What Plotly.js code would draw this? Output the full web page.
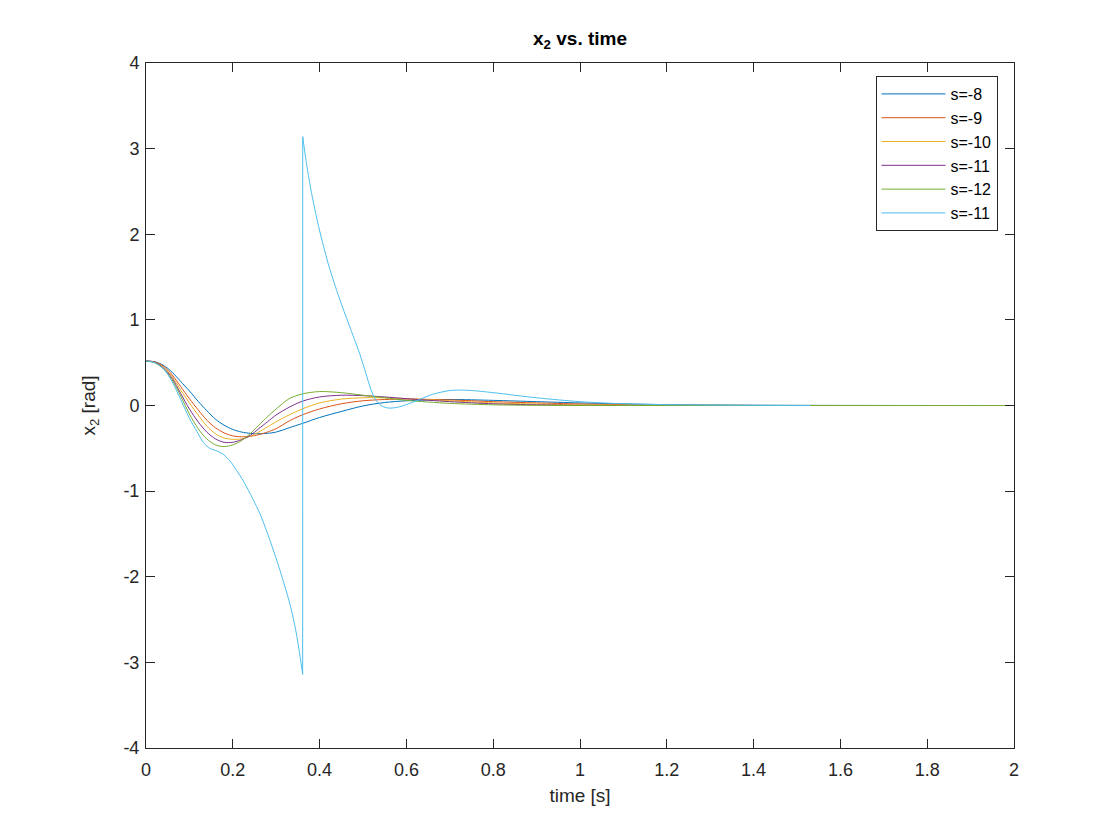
<!DOCTYPE html>
<html>
<head>
<meta charset="utf-8">
<script src="https://cdn.plot.ly/plotly-3.0.1.min.js"></script>
<style>
  html, body { margin: 0; padding: 0; background: #fff; }
  #chart { width: 1120px; height: 840px; }
</style>
</head>
<body>
<div id="chart"></div>
<script>
// x2 response for several pole placements
const timeCommon = [0, 0.02, 0.04, 0.06, 0.08, 0.1, 0.12, 0.14, 0.16, 0.18, 0.2, 0.22, 0.24, 0.26,
  0.28, 0.3, 0.33, 0.36, 0.4, 0.45, 0.5, 0.55, 0.6, 0.7, 0.8, 0.9, 1.0, 1.2, 1.4, 1.6, 1.8, 2.0];

const x2_s8 = [0.52, 0.51, 0.47, 0.39, 0.28, 0.17, 0.05, -0.06, -0.16, -0.23, -0.28, -0.31, -0.325, -0.33,
  -0.325, -0.31, -0.26, -0.21, -0.14, -0.07, -0.005, 0.035, 0.055, 0.07, 0.06, 0.045, 0.03, 0.01, 0.003, 0.001, 0, 0];
const x2_s9 = [0.52, 0.51, 0.46, 0.36, 0.22, 0.08, -0.05, -0.17, -0.26, -0.32, -0.355, -0.365, -0.36, -0.34,
  -0.31, -0.27, -0.18, -0.11, -0.04, 0.02, 0.055, 0.07, 0.075, 0.065, 0.045, 0.03, 0.018, 0.005, 0.001, 0, 0, 0];
const x2_s10 = [0.52, 0.505, 0.45, 0.34, 0.18, 0.03, -0.11, -0.24, -0.33, -0.38, -0.395, -0.39, -0.36, -0.31,
  -0.25, -0.19, -0.11, -0.04, 0.03, 0.075, 0.09, 0.09, 0.08, 0.055, 0.03, 0.017, 0.008, 0.002, 0, 0, 0, 0];
const x2_s11 = [0.52, 0.505, 0.44, 0.32, 0.14, -0.04, -0.19, -0.31, -0.39, -0.43, -0.43, -0.4, -0.35, -0.27,
  -0.19, -0.11, -0.02, 0.05, 0.1, 0.12, 0.115, 0.1, 0.08, 0.045, 0.02, 0.008, 0.002, 0, 0, 0, 0, 0];
const x2_s12 = [0.52, 0.5, 0.43, 0.3, 0.11, -0.1, -0.27, -0.39, -0.46, -0.48, -0.46, -0.41, -0.33, -0.23,
  -0.13, -0.04, 0.08, 0.135, 0.163, 0.15, 0.12, 0.09, 0.06, 0.025, 0.008, 0.002, 0, 0, 0, 0, 0, 0];

// second s=-11 run: the angle wraps from -pi to +pi at t ~ 0.361 s
const timeWrap = [0, 0.02, 0.04, 0.06, 0.08, 0.1, 0.117, 0.132, 0.147, 0.163, 0.178, 0.194, 0.209, 0.224,
  0.24, 0.263, 0.286, 0.309, 0.318, 0.328, 0.336, 0.343, 0.349, 0.355, 0.361,
  0.3611, 0.369, 0.38, 0.392, 0.403, 0.422, 0.445, 0.468, 0.492, 0.507, 0.518, 0.53, 0.545, 0.56,
  0.58, 0.6, 0.63, 0.66, 0.7, 0.72, 0.75, 0.8, 0.9, 1.0, 1.1, 1.2, 1.3, 1.4, 1.53];
const x2_wrap = [0.52, 0.5, 0.43, 0.28, 0.07, -0.15, -0.3, -0.43, -0.5, -0.53, -0.57, -0.65, -0.76, -0.88,
  -1.03, -1.27, -1.58, -1.93, -2.08, -2.25, -2.41, -2.57, -2.74, -2.93, -3.14,
  3.14, 2.85, 2.52, 2.22, 1.98, 1.62, 1.26, 0.94, 0.61, 0.37, 0.19, 0.06, -0.01, -0.03,
  -0.02, 0.01, 0.07, 0.13, 0.175, 0.18, 0.175, 0.15, 0.09, 0.045, 0.02, 0.01, 0.005, 0.002, 0];
const wrapIndex = 25; // first sample after the jump

const seriesNames = ["s=-8", "s=-9", "s=-10", "s=-11", "s=-12", "s=-11"];
const seriesColors = ["#0072BD", "#D95319", "#EDB120", "#7E2F8E", "#77AC30", "#4DBEEE"];
const xTicks = [0, 0.2, 0.4, 0.6, 0.8, 1, 1.2, 1.4, 1.6, 1.8, 2];
const yTicks = [-4, -3, -2, -1, 0, 1, 2, 3, 4];

const FONT = "Liberation Sans, Arial, Helvetica, sans-serif";
const AXIS_COLOR = "#262626";

const ys = [x2_s8, x2_s9, x2_s10, x2_s11, x2_s12];
const traces = ys.map((y, i) => ({
  x: timeCommon,
  y,
  type: "scatter",
  mode: "lines",
  name: seriesNames[i],
  line: { color: seriesColors[i], width: 1, shape: "spline", smoothing: 0.8 },
}));

// wrapped run drawn in three pieces (smooth / vertical jump / smooth) so the
// spline does not overshoot at the jump; one legend entry for all of them
const wrapPieces = [
  [0, wrapIndex, "spline"],
  [wrapIndex - 1, wrapIndex + 1, "linear"],
  [wrapIndex, timeWrap.length, "spline"],
];
wrapPieces.forEach(([a, b, shape], k) => {
  traces.push({
    x: timeWrap.slice(a, b),
    y: x2_wrap.slice(a, b),
    type: "scatter",
    mode: "lines",
    name: seriesNames[5],
    legendgroup: "wrap",
    showlegend: k === 0,
    line: { color: seriesColors[5], width: 1, shape, smoothing: 0.8 },
  });
});

const axisCommon = {
  showgrid: false,
  zeroline: false,
  showline: true,
  mirror: "ticks",
  linecolor: AXIS_COLOR,
  linewidth: 1,
  ticks: "inside",
  ticklen: 9,
  tickcolor: AXIS_COLOR,
  tickfont: { family: FONT, size: 18, color: AXIS_COLOR },
};

const layout = {
  width: 1120,
  height: 840,
  paper_bgcolor: "#ffffff",
  plot_bgcolor: "#ffffff",
  margin: { l: 146, r: 106, t: 63, b: 92, pad: 0 },
  title: {
    text: "<b>x<sub>2</sub> vs. time</b>",
    font: { family: FONT, size: 19, color: "#000" },
    x: 0.5 * (146 + 1014) / 1120,
    xanchor: "center",
    y: 1 - 38 / 840,
    yanchor: "middle",
  },
  xaxis: Object.assign({}, axisCommon, {
    range: [0, 2],
    tickvals: xTicks,
    ticktext: xTicks.map(String),
    ticklabelstandoff: 5,
    title: { text: "time [s]", font: { family: FONT, size: 19, color: AXIS_COLOR }, standoff: 10 },
  }),
  yaxis: Object.assign({}, axisCommon, {
    range: [-4, 4],
    tickvals: yTicks,
    ticktext: yTicks.map(String),
    ticklabelstandoff: 2,
    title: { text: "x<sub>2</sub> [rad]", font: { family: FONT, size: 19, color: AXIS_COLOR }, standoff: 22 },
  }),
  showlegend: true,
  legend: {
    x: 0.981,
    y: 0.981,
    xanchor: "right",
    yanchor: "top",
    bgcolor: "#ffffff",
    bordercolor: AXIS_COLOR,
    borderwidth: 1,
    itemwidth: 64,
    font: { family: FONT, size: 16, color: "#000" },
    tracegroupgap: 0,
  },
};

Plotly.newPlot("chart", traces, layout, { staticPlot: true, displayModeBar: false });
</script>
</body>
</html>
